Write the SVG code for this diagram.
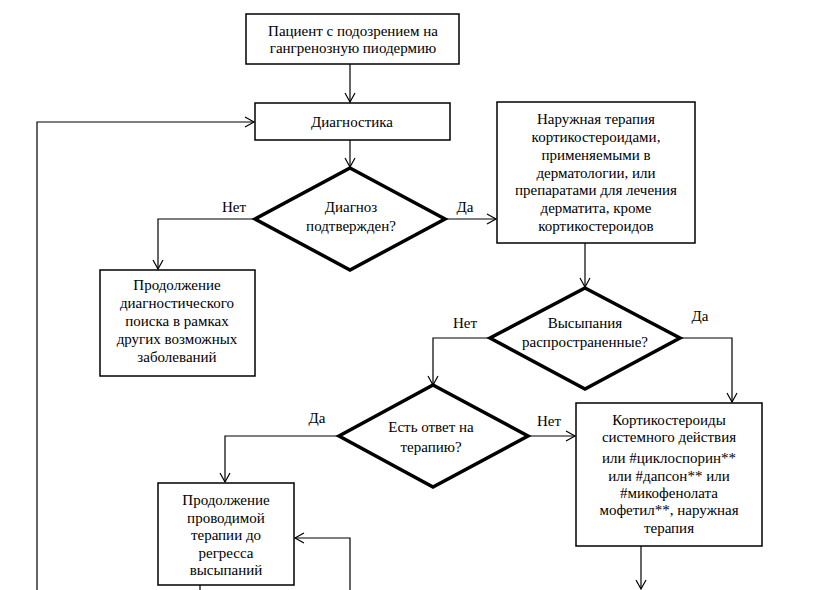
<svg xmlns="http://www.w3.org/2000/svg" width="821" height="590" viewBox="0 0 821 590">
<defs>
<marker id="arr" markerWidth="12" markerHeight="12" refX="10" refY="6" orient="auto" markerUnits="userSpaceOnUse">
<path d="M1,1 L10,6 L1,11" fill="none" stroke="#000" stroke-width="1.2"/>
</marker>
</defs>
<style>
text{font-family:"Liberation Serif","Times New Roman",serif;font-size:15px;fill:#000;text-anchor:middle}
.box{fill:#fff;stroke:#000;stroke-width:1.5}
.dia{fill:#fff;stroke:#000;stroke-width:3.5;stroke-linejoin:miter}
.c{fill:none;stroke:#000;stroke-width:1.2}
</style>
<rect width="821" height="590" fill="#fff"/>
<g id="connectors">
<path class="c" d="M350,64 V102" marker-end="url(#arr)"/>
<path class="c" d="M350,140 V167" marker-end="url(#arr)"/>
<path class="c" d="M254,219 H158 V269" marker-end="url(#arr)"/>
<path class="c" d="M445,219 H496" marker-end="url(#arr)"/>
<path class="c" d="M585,243 V287" marker-end="url(#arr)"/>
<path class="c" d="M489,338 H433 V385" marker-end="url(#arr)"/>
<path class="c" d="M680,338 H732 V402" marker-end="url(#arr)"/>
<path class="c" d="M339,436 H225 V482" marker-end="url(#arr)"/>
<path class="c" d="M528,436 H575" marker-end="url(#arr)"/>
<path class="c" d="M641,546 V589" marker-end="url(#arr)"/>
<path class="c" d="M350,590 V538 H295" marker-end="url(#arr)"/>
<path class="c" d="M200,585 V590"/>
<path class="c" d="M37,590 V122 H254" marker-end="url(#arr)"/>
<text x="234" y="212">Нет</text>
<text x="465" y="212">Да</text>
<text x="465" y="328">Нет</text>
<text x="700" y="321">Да</text>
<text x="317" y="423">Да</text>
<text x="549" y="426">Нет</text>
</g>
<g id="n1">
<rect class="box" x="246" y="14" width="213" height="50"/>
<text x="353" y="36">Пациент с подозрением на</text>
<text x="353" y="53">гангренозную пиодермию</text>
</g>
<g id="n2">
<rect class="box" x="255" y="103" width="195" height="37"/>
<text x="352" y="127">Диагностика</text>
</g>
<g id="n3">
<polygon class="dia" points="350,168 445,219 350,270 255,219"/>
<text x="351" y="212">Диагноз</text>
<text x="351" y="231">подтвержден?</text>
</g>
<g id="n4">
<rect class="box" x="100" y="270" width="155" height="106"/>
<text x="177" y="290">Продолжение</text>
<text x="177" y="308">диагностического</text>
<text x="177" y="326">поиска в рамках</text>
<text x="177" y="344">других возможных</text>
<text x="177" y="362">заболеваний</text>
</g>
<g id="n5">
<rect class="box" x="497" y="102" width="198" height="141"/>
<text x="596" y="124">Наружная терапия</text>
<text x="596" y="142">кортикостероидами,</text>
<text x="596" y="160">применяемыми в</text>
<text x="596" y="178">дерматологии, или</text>
<text x="596" y="195">препаратами для лечения</text>
<text x="596" y="213">дерматита, кроме</text>
<text x="596" y="231">кортикостероидов</text>
</g>
<g id="n6">
<polygon class="dia" points="585,288 680,338 585,389 490,338"/>
<text x="585" y="328">Высыпания</text>
<text x="585" y="347">распространенные?</text>
</g>
<g id="n7">
<polygon class="dia" points="433,385 528,436 433,487 339,436"/>
<text x="431" y="432">Есть ответ на</text>
<text x="431" y="452">терапию?</text>
</g>
<g id="n8">
<rect class="box" x="576" y="403" width="186" height="143"/>
<text x="669" y="425">Кортикостероиды</text>
<text x="669" y="442">системного действия</text>
<text x="669" y="463">или #циклоспорин**</text>
<text x="669" y="481">или #дапсон** или</text>
<text x="669" y="498">#микофенолата</text>
<text x="669" y="515">мофетил**, наружная</text>
<text x="669" y="533">терапия</text>
</g>
<g id="n9">
<rect class="box" x="158" y="483" width="136" height="102"/>
<text x="226" y="505">Продолжение</text>
<text x="226" y="523">проводимой</text>
<text x="226" y="540">терапии до</text>
<text x="226" y="558">регресса</text>
<text x="226" y="575">высыпаний</text>
</g>
</svg>
